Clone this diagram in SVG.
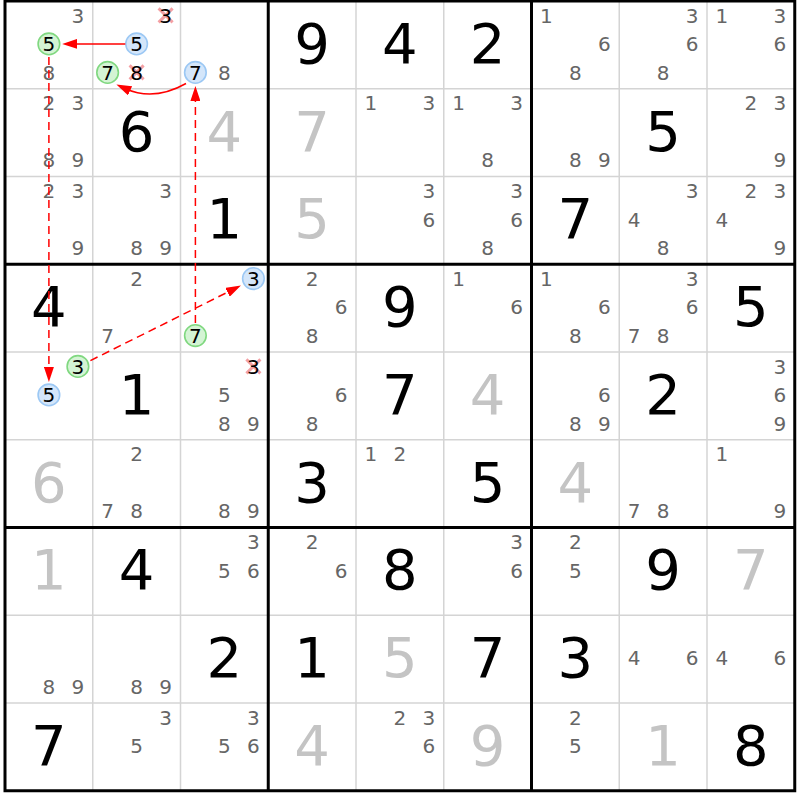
<svg xmlns="http://www.w3.org/2000/svg" width="800" height="800" viewBox="0 0 800 800">
<style>
text{font-family:"DejaVu Sans","Liberation Sans",sans-serif;text-anchor:middle}
.c{font-size:20px;fill:#666}
.k{font-size:20px;fill:#000}
.g{font-size:56px;fill:#000}
.s{font-size:56px;fill:#c4c4c4}
.cg{fill:#d4f4d4;stroke:#80d880;stroke-width:1.6}
.cb{fill:#d4e6fa;stroke:#9cc8f4;stroke-width:1.6}
.x{stroke:#f4a0a4;stroke-width:3;fill:none}
.thin{stroke:#d4d4d4;stroke-width:1.5}
.thick{stroke:#000;stroke-width:3;fill:none}
.lk{stroke:#ff0000;stroke-width:1.5;fill:none;marker-end:url(#ah)}
.d{stroke-dasharray:8 5}
</style>
<defs>
<marker id="ah" markerUnits="userSpaceOnUse" viewBox="0 0 15 10" refX="5" refY="5" markerWidth="15" markerHeight="10" orient="auto">
<path d="M0,0 L15,5 L0,10 z" fill="#ff0000"/>
</marker>
</defs>
<rect x="0" y="0" width="800" height="800" fill="#fff"/>
<g id="grid">
<g class="thin">
<line x1="92.75" y1="1" x2="92.75" y2="790.75"/><line x1="180.5" y1="1" x2="180.5" y2="790.75"/>
<line x1="356" y1="1" x2="356" y2="790.75"/><line x1="443.75" y1="1" x2="443.75" y2="790.75"/>
<line x1="619.25" y1="1" x2="619.25" y2="790.75"/><line x1="707" y1="1" x2="707" y2="790.75"/>
<line x1="5" y1="88.75" x2="794.75" y2="88.75"/><line x1="5" y1="176.5" x2="794.75" y2="176.5"/>
<line x1="5" y1="352" x2="794.75" y2="352"/><line x1="5" y1="439.75" x2="794.75" y2="439.75"/>
<line x1="5" y1="615.25" x2="794.75" y2="615.25"/><line x1="5" y1="703" x2="794.75" y2="703"/>
</g>
<g class="thick">
<rect x="5" y="1" width="789.75" height="789.75"/>
<line x1="268.25" y1="1" x2="268.25" y2="790.75"/><line x1="531.5" y1="1" x2="531.5" y2="790.75"/>
<line x1="5" y1="264.25" x2="794.75" y2="264.25"/><line x1="5" y1="527.5" x2="794.75" y2="527.5"/>
</g>
</g>

<!-- row 0 -->
<g id="r0c0" transform="translate(48.9,44.9)"><circle class="cg" cx="0" cy="-1" r="10.8"/><text class="c" x="29" y="-22.2">3</text><text class="k" x="0" y="6.3">5</text><text class="c" x="0" y="34.8">8</text></g>
<g id="r0c1" transform="translate(136.6,44.9)"><circle class="cb" cx="0" cy="-1" r="10.8"/><circle class="cg" cx="-29" cy="27.5" r="10.8"/><path class="x" d="M22,-36.5 L36,-22.5 M36,-36.5 L22,-22.5"/><path class="x" d="M-7,20.5 L7,34.5 M7,20.5 L-7,34.5"/><text class="k" x="29" y="-22.2">3</text><text class="k" x="0" y="6.3">5</text><text class="k" x="-29" y="34.8">7</text><text class="k" x="0" y="34.8">8</text></g>
<g id="r0c2" transform="translate(224.4,44.9)"><circle class="cb" cx="-29" cy="27.5" r="10.8"/><text class="k" x="-29" y="34.8">7</text><text class="c" x="0" y="34.8">8</text></g>
<g id="r0c3" transform="translate(312.1,44.9)"><text class="g" y="18">9</text></g>
<g id="r0c4" transform="translate(399.9,44.9)"><text class="g" y="18">4</text></g>
<g id="r0c5" transform="translate(487.6,44.9)"><text class="g" y="18">2</text></g>
<g id="r0c6" transform="translate(575.4,44.9)"><text class="c" x="-29" y="-22.2">1</text><text class="c" x="29" y="6.3">6</text><text class="c" x="0" y="34.8">8</text></g>
<g id="r0c7" transform="translate(663.1,44.9)"><text class="c" x="29" y="-22.2">3</text><text class="c" x="29" y="6.3">6</text><text class="c" x="0" y="34.8">8</text></g>
<g id="r0c8" transform="translate(750.9,44.9)"><text class="c" x="-29" y="-22.2">1</text><text class="c" x="29" y="-22.2">3</text><text class="c" x="29" y="6.3">6</text></g>

<!-- row 1 -->
<g id="r1c0" transform="translate(48.9,132.6)"><text class="c" x="0" y="-22.2">2</text><text class="c" x="29" y="-22.2">3</text><text class="c" x="0" y="34.8">8</text><text class="c" x="29" y="34.8">9</text></g>
<g id="r1c1" transform="translate(136.6,132.6)"><text class="g" y="18">6</text></g>
<g id="r1c2" transform="translate(224.4,132.6)"><text class="s" y="18">4</text></g>
<g id="r1c3" transform="translate(312.1,132.6)"><text class="s" y="18">7</text></g>
<g id="r1c4" transform="translate(399.9,132.6)"><text class="c" x="-29" y="-22.2">1</text><text class="c" x="29" y="-22.2">3</text></g>
<g id="r1c5" transform="translate(487.6,132.6)"><text class="c" x="-29" y="-22.2">1</text><text class="c" x="29" y="-22.2">3</text><text class="c" x="0" y="34.8">8</text></g>
<g id="r1c6" transform="translate(575.4,132.6)"><text class="c" x="0" y="34.8">8</text><text class="c" x="29" y="34.8">9</text></g>
<g id="r1c7" transform="translate(663.1,132.6)"><text class="g" y="18">5</text></g>
<g id="r1c8" transform="translate(750.9,132.6)"><text class="c" x="0" y="-22.2">2</text><text class="c" x="29" y="-22.2">3</text><text class="c" x="29" y="34.8">9</text></g>

<!-- row 2 -->
<g id="r2c0" transform="translate(48.9,220.4)"><text class="c" x="0" y="-22.2">2</text><text class="c" x="29" y="-22.2">3</text><text class="c" x="29" y="34.8">9</text></g>
<g id="r2c1" transform="translate(136.6,220.4)"><text class="c" x="29" y="-22.2">3</text><text class="c" x="0" y="34.8">8</text><text class="c" x="29" y="34.8">9</text></g>
<g id="r2c2" transform="translate(224.4,220.4)"><text class="g" y="18">1</text></g>
<g id="r2c3" transform="translate(312.1,220.4)"><text class="s" y="18">5</text></g>
<g id="r2c4" transform="translate(399.9,220.4)"><text class="c" x="29" y="-22.2">3</text><text class="c" x="29" y="6.3">6</text></g>
<g id="r2c5" transform="translate(487.6,220.4)"><text class="c" x="29" y="-22.2">3</text><text class="c" x="29" y="6.3">6</text><text class="c" x="0" y="34.8">8</text></g>
<g id="r2c6" transform="translate(575.4,220.4)"><text class="g" y="18">7</text></g>
<g id="r2c7" transform="translate(663.1,220.4)"><text class="c" x="29" y="-22.2">3</text><text class="c" x="-29" y="6.3">4</text><text class="c" x="0" y="34.8">8</text></g>
<g id="r2c8" transform="translate(750.9,220.4)"><text class="c" x="0" y="-22.2">2</text><text class="c" x="29" y="-22.2">3</text><text class="c" x="-29" y="6.3">4</text><text class="c" x="29" y="34.8">9</text></g>

<!-- row 3 -->
<g id="r3c0" transform="translate(48.9,308.1)"><text class="g" y="18">4</text></g>
<g id="r3c1" transform="translate(136.6,308.1)"><text class="c" x="0" y="-22.2">2</text><text class="c" x="-29" y="34.8">7</text></g>
<g id="r3c2" transform="translate(224.4,308.1)"><circle class="cb" cx="29" cy="-29.5" r="10.8"/><circle class="cg" cx="-29" cy="27.5" r="10.8"/><text class="k" x="29" y="-22.2">3</text><text class="k" x="-29" y="34.8">7</text></g>
<g id="r3c3" transform="translate(312.1,308.1)"><text class="c" x="0" y="-22.2">2</text><text class="c" x="29" y="6.3">6</text><text class="c" x="0" y="34.8">8</text></g>
<g id="r3c4" transform="translate(399.9,308.1)"><text class="g" y="18">9</text></g>
<g id="r3c5" transform="translate(487.6,308.1)"><text class="c" x="-29" y="-22.2">1</text><text class="c" x="29" y="6.3">6</text></g>
<g id="r3c6" transform="translate(575.4,308.1)"><text class="c" x="-29" y="-22.2">1</text><text class="c" x="29" y="6.3">6</text><text class="c" x="0" y="34.8">8</text></g>
<g id="r3c7" transform="translate(663.1,308.1)"><text class="c" x="29" y="-22.2">3</text><text class="c" x="29" y="6.3">6</text><text class="c" x="-29" y="34.8">7</text><text class="c" x="0" y="34.8">8</text></g>
<g id="r3c8" transform="translate(750.9,308.1)"><text class="g" y="18">5</text></g>

<!-- row 4 -->
<g id="r4c0" transform="translate(48.9,395.9)"><circle class="cg" cx="29" cy="-29.5" r="10.8"/><circle class="cb" cx="0" cy="-1" r="10.8"/><text class="k" x="29" y="-22.2">3</text><text class="k" x="0" y="6.3">5</text></g>
<g id="r4c1" transform="translate(136.6,395.9)"><text class="g" y="18">1</text></g>
<g id="r4c2" transform="translate(224.4,395.9)"><path class="x" d="M22,-36.5 L36,-22.5 M36,-36.5 L22,-22.5"/><text class="k" x="29" y="-22.2">3</text><text class="c" x="0" y="6.3">5</text><text class="c" x="0" y="34.8">8</text><text class="c" x="29" y="34.8">9</text></g>
<g id="r4c3" transform="translate(312.1,395.9)"><text class="c" x="29" y="6.3">6</text><text class="c" x="0" y="34.8">8</text></g>
<g id="r4c4" transform="translate(399.9,395.9)"><text class="g" y="18">7</text></g>
<g id="r4c5" transform="translate(487.6,395.9)"><text class="s" y="18">4</text></g>
<g id="r4c6" transform="translate(575.4,395.9)"><text class="c" x="29" y="6.3">6</text><text class="c" x="0" y="34.8">8</text><text class="c" x="29" y="34.8">9</text></g>
<g id="r4c7" transform="translate(663.1,395.9)"><text class="g" y="18">2</text></g>
<g id="r4c8" transform="translate(750.9,395.9)"><text class="c" x="29" y="-22.2">3</text><text class="c" x="29" y="6.3">6</text><text class="c" x="29" y="34.8">9</text></g>

<!-- row 5 -->
<g id="r5c0" transform="translate(48.9,483.6)"><text class="s" y="18">6</text></g>
<g id="r5c1" transform="translate(136.6,483.6)"><text class="c" x="0" y="-22.2">2</text><text class="c" x="-29" y="34.8">7</text><text class="c" x="0" y="34.8">8</text></g>
<g id="r5c2" transform="translate(224.4,483.6)"><text class="c" x="0" y="34.8">8</text><text class="c" x="29" y="34.8">9</text></g>
<g id="r5c3" transform="translate(312.1,483.6)"><text class="g" y="18">3</text></g>
<g id="r5c4" transform="translate(399.9,483.6)"><text class="c" x="-29" y="-22.2">1</text><text class="c" x="0" y="-22.2">2</text></g>
<g id="r5c5" transform="translate(487.6,483.6)"><text class="g" y="18">5</text></g>
<g id="r5c6" transform="translate(575.4,483.6)"><text class="s" y="18">4</text></g>
<g id="r5c7" transform="translate(663.1,483.6)"><text class="c" x="-29" y="34.8">7</text><text class="c" x="0" y="34.8">8</text></g>
<g id="r5c8" transform="translate(750.9,483.6)"><text class="c" x="-29" y="-22.2">1</text><text class="c" x="29" y="34.8">9</text></g>

<!-- row 6 -->
<g id="r6c0" transform="translate(48.9,571.4)"><text class="s" y="18">1</text></g>
<g id="r6c1" transform="translate(136.6,571.4)"><text class="g" y="18">4</text></g>
<g id="r6c2" transform="translate(224.4,571.4)"><text class="c" x="29" y="-22.2">3</text><text class="c" x="0" y="6.3">5</text><text class="c" x="29" y="6.3">6</text></g>
<g id="r6c3" transform="translate(312.1,571.4)"><text class="c" x="0" y="-22.2">2</text><text class="c" x="29" y="6.3">6</text></g>
<g id="r6c4" transform="translate(399.9,571.4)"><text class="g" y="18">8</text></g>
<g id="r6c5" transform="translate(487.6,571.4)"><text class="c" x="29" y="-22.2">3</text><text class="c" x="29" y="6.3">6</text></g>
<g id="r6c6" transform="translate(575.4,571.4)"><text class="c" x="0" y="-22.2">2</text><text class="c" x="0" y="6.3">5</text></g>
<g id="r6c7" transform="translate(663.1,571.4)"><text class="g" y="18">9</text></g>
<g id="r6c8" transform="translate(750.9,571.4)"><text class="s" y="18">7</text></g>

<!-- row 7 -->
<g id="r7c0" transform="translate(48.9,659.1)"><text class="c" x="0" y="34.8">8</text><text class="c" x="29" y="34.8">9</text></g>
<g id="r7c1" transform="translate(136.6,659.1)"><text class="c" x="0" y="34.8">8</text><text class="c" x="29" y="34.8">9</text></g>
<g id="r7c2" transform="translate(224.4,659.1)"><text class="g" y="18">2</text></g>
<g id="r7c3" transform="translate(312.1,659.1)"><text class="g" y="18">1</text></g>
<g id="r7c4" transform="translate(399.9,659.1)"><text class="s" y="18">5</text></g>
<g id="r7c5" transform="translate(487.6,659.1)"><text class="g" y="18">7</text></g>
<g id="r7c6" transform="translate(575.4,659.1)"><text class="g" y="18">3</text></g>
<g id="r7c7" transform="translate(663.1,659.1)"><text class="c" x="-29" y="6.3">4</text><text class="c" x="29" y="6.3">6</text></g>
<g id="r7c8" transform="translate(750.9,659.1)"><text class="c" x="-29" y="6.3">4</text><text class="c" x="29" y="6.3">6</text></g>

<!-- row 8 -->
<g id="r8c0" transform="translate(48.9,746.9)"><text class="g" y="18">7</text></g>
<g id="r8c1" transform="translate(136.6,746.9)"><text class="c" x="29" y="-22.2">3</text><text class="c" x="0" y="6.3">5</text></g>
<g id="r8c2" transform="translate(224.4,746.9)"><text class="c" x="29" y="-22.2">3</text><text class="c" x="0" y="6.3">5</text><text class="c" x="29" y="6.3">6</text></g>
<g id="r8c3" transform="translate(312.1,746.9)"><text class="s" y="18">4</text></g>
<g id="r8c4" transform="translate(399.9,746.9)"><text class="c" x="0" y="-22.2">2</text><text class="c" x="29" y="-22.2">3</text><text class="c" x="29" y="6.3">6</text></g>
<g id="r8c5" transform="translate(487.6,746.9)"><text class="s" y="18">9</text></g>
<g id="r8c6" transform="translate(575.4,746.9)"><text class="c" x="0" y="-22.2">2</text><text class="c" x="0" y="6.3">5</text></g>
<g id="r8c7" transform="translate(663.1,746.9)"><text class="s" y="18">1</text></g>
<g id="r8c8" transform="translate(750.9,746.9)"><text class="g" y="18">8</text></g>

<g id="connectors">
<path class="lk" d="M125.3,43.9 L72.2,43.9"/>
<path class="lk" d="M186,83.5 Q154,101.5 125.5,88.7"/>
<path class="lk d" d="M48.9,57 L48.9,372"/>
<path class="lk d" d="M195.4,323 L195.4,96"/>
<path class="lk d" d="M90.4,360.6 L232,290"/>
</g>
</svg>
